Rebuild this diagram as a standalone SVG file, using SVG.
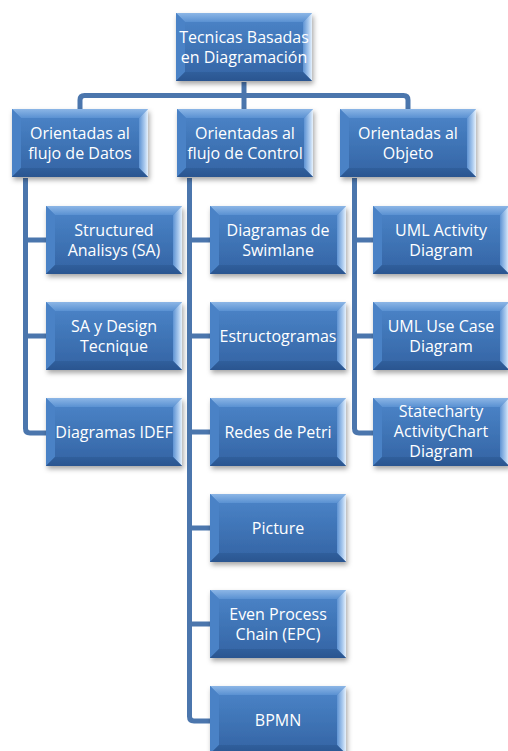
<svg xmlns="http://www.w3.org/2000/svg" xmlns:xlink="http://www.w3.org/1999/xlink" width="508" height="751" viewBox="0 0 508 751">
  <style>
    .lbl { font-family: "Open Sans", "Liberation Sans", sans-serif; font-size: 16px; fill: #ffffff; text-anchor: middle; }
    .wire { fill: none; stroke: #4b76ad; stroke-width: 5; stroke-linejoin: round; stroke-linecap: butt; }
  </style>
  <defs>
    <linearGradient id="face" x1="0" y1="0" x2="0" y2="1">
      <stop offset="0" stop-color="#4c86ca"/>
      <stop offset="1" stop-color="#3363a3"/>
    </linearGradient>
    <linearGradient id="bevelTop" x1="0" y1="0" x2="0" y2="1">
      <stop offset="0" stop-color="#8cb6e6"/>
      <stop offset="1" stop-color="#5a91d2"/>
    </linearGradient>
    <linearGradient id="bevelRight" x1="0" y1="0" x2="1" y2="0">
      <stop offset="0" stop-color="#5e93d3"/>
      <stop offset="0.6" stop-color="#a9c9ee"/>
      <stop offset="1" stop-color="#e6f1fc"/>
    </linearGradient>
    <linearGradient id="bevelBottom" x1="0" y1="0" x2="0" y2="1">
      <stop offset="0" stop-color="#305f9c"/>
      <stop offset="1" stop-color="#2a5590"/>
    </linearGradient>
    <filter id="shade" x="-10%" y="-10%" width="125%" height="135%">
      <feDropShadow dx="1.5" dy="3" stdDeviation="2.5" flood-color="#000000" flood-opacity="0.35"/>
    </filter>
    <!-- bevelled tile, 136 x 68 -->
    <g id="tile">
      <rect x="0" y="0" width="136" height="68" fill="url(#face)" filter="url(#shade)"/>
      <polygon points="0,0 136,0 127,9 9,9" fill="url(#bevelTop)"/>
      <polygon points="0,0 9,9 9,59 0,68" fill="#4a82c6"/>
      <polygon points="136,0 136,68 127,59 127,9" fill="url(#bevelRight)"/>
      <polygon points="0,68 136,68 127,59 9,59" fill="url(#bevelBottom)"/>
    </g>
  </defs>

  <rect width="508" height="751" fill="#ffffff"/>

  <g id="connectors">
    <path class="wire" d="M244,82 V109"/>
    <path class="wire" d="M80,109 V100 Q80,95.5 84.5,95.5 H403.5 Q408,95.5 408,100 V109"/>
    <path class="wire" d="M25.5,178 V428.5 Q25.5,433 30,433 H46 M25.5,240 H46 M25.5,336 H46"/>
    <path class="wire" d="M189.5,178 V716.5 Q189.5,721 194,721 H210 M189.5,240 H210 M189.5,336 H210 M189.5,432 H210 M189.5,528 H210 M189.5,624 H210"/>
    <path class="wire" d="M354.5,178 V428.5 Q354.5,433 359,433 H373 M354.5,240 H373 M354.5,336 H373"/>
  </g>

  <g id="root">
    <use xlink:href="#tile" x="176" y="13"/>
    <text class="lbl" x="244" y="42.5">Tecnicas Basadas</text>
    <text class="lbl" x="244" y="63">en Diagramación</text>
  </g>

  <g id="datos">
    <use xlink:href="#tile" x="12" y="109"/>
    <text class="lbl" x="80" y="138.5">Orientadas al</text>
    <text class="lbl" x="80" y="158.5">flujo de Datos</text>
  </g>
  <g id="control">
    <use xlink:href="#tile" x="177" y="109"/>
    <text class="lbl" x="245" y="138.5">Orientadas al</text>
    <text class="lbl" x="245" y="158.5">flujo de Control</text>
  </g>
  <g id="objeto">
    <use xlink:href="#tile" x="340" y="109"/>
    <text class="lbl" x="408" y="138.5">Orientadas al</text>
    <text class="lbl" x="408" y="158.5">Objeto</text>
  </g>

  <g id="sa">
    <use xlink:href="#tile" x="46" y="206"/>
    <text class="lbl" x="114" y="235.5">Structured</text>
    <text class="lbl" x="114" y="255.5">Analisys (SA)</text>
  </g>
  <g id="sa-design">
    <use xlink:href="#tile" x="46" y="302"/>
    <text class="lbl" x="114" y="331.5">SA y Design</text>
    <text class="lbl" x="114" y="351.5">Tecnique</text>
  </g>
  <g id="idef">
    <use xlink:href="#tile" x="46" y="398"/>
    <text class="lbl" x="114" y="437.5">Diagramas IDEF</text>
  </g>

  <g id="swimlane">
    <use xlink:href="#tile" x="210" y="206"/>
    <text class="lbl" x="278" y="235.5">Diagramas de</text>
    <text class="lbl" x="278" y="255.5">Swimlane</text>
  </g>
  <g id="estructogramas">
    <use xlink:href="#tile" x="210" y="302"/>
    <text class="lbl" x="278" y="341.5">Estructogramas</text>
  </g>
  <g id="petri">
    <use xlink:href="#tile" x="210" y="398"/>
    <text class="lbl" x="278" y="437.5">Redes de Petri</text>
  </g>
  <g id="picture">
    <use xlink:href="#tile" x="210" y="494"/>
    <text class="lbl" x="278" y="533.5">Picture</text>
  </g>
  <g id="epc">
    <use xlink:href="#tile" x="210" y="590"/>
    <text class="lbl" x="278" y="619.5">Even Process</text>
    <text class="lbl" x="278" y="639.5">Chain (EPC)</text>
  </g>
  <g id="bpmn">
    <use xlink:href="#tile" x="210" y="686"/>
    <text class="lbl" x="278" y="725.5">BPMN</text>
  </g>

  <g id="uml-activity">
    <use xlink:href="#tile" x="373" y="206"/>
    <text class="lbl" x="441" y="235.5">UML Activity</text>
    <text class="lbl" x="441" y="255.5">Diagram</text>
  </g>
  <g id="uml-usecase">
    <use xlink:href="#tile" x="373" y="302"/>
    <text class="lbl" x="441" y="331.5">UML Use Case</text>
    <text class="lbl" x="441" y="351.5">Diagram</text>
  </g>
  <g id="statechart">
    <use xlink:href="#tile" x="373" y="398"/>
    <text class="lbl" x="441" y="417">Statecharty</text>
    <text class="lbl" x="441" y="437">ActivityChart</text>
    <text class="lbl" x="441" y="457">Diagram</text>
  </g>
</svg>
